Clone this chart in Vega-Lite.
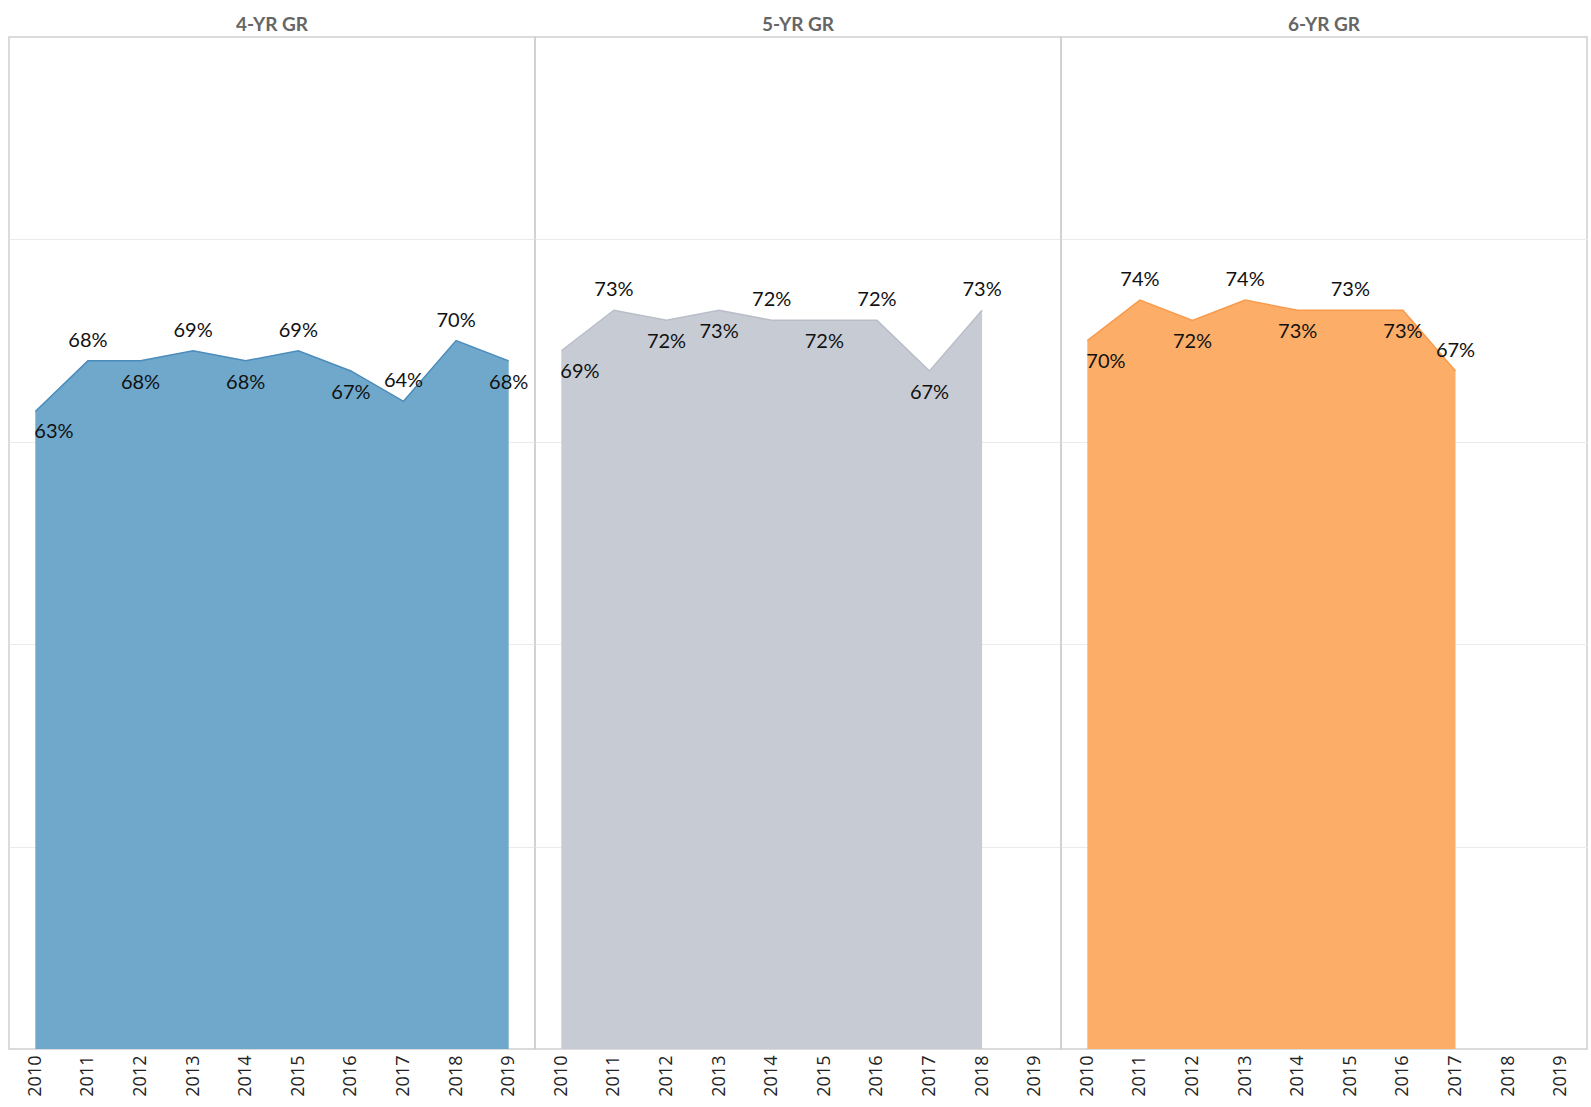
{
  "$schema": "https://vega.github.io/schema/vega-lite/v6.json",
  "background": "white",
  "padding": {"left": 8, "top": 16, "right": 5, "bottom": 0},
  "bounds": "flush",
  "data": {
    "values": [
      {"series": "4-YR GR", "year": "2010", "rate": 0.63},
      {"series": "4-YR GR", "year": "2011", "rate": 0.68},
      {"series": "4-YR GR", "year": "2012", "rate": 0.68},
      {"series": "4-YR GR", "year": "2013", "rate": 0.69},
      {"series": "4-YR GR", "year": "2014", "rate": 0.68},
      {"series": "4-YR GR", "year": "2015", "rate": 0.69},
      {"series": "4-YR GR", "year": "2016", "rate": 0.67},
      {"series": "4-YR GR", "year": "2017", "rate": 0.64},
      {"series": "4-YR GR", "year": "2018", "rate": 0.70},
      {"series": "4-YR GR", "year": "2019", "rate": 0.68},
      {"series": "5-YR GR", "year": "2010", "rate": 0.69},
      {"series": "5-YR GR", "year": "2011", "rate": 0.73},
      {"series": "5-YR GR", "year": "2012", "rate": 0.72},
      {"series": "5-YR GR", "year": "2013", "rate": 0.73},
      {"series": "5-YR GR", "year": "2014", "rate": 0.72},
      {"series": "5-YR GR", "year": "2015", "rate": 0.72},
      {"series": "5-YR GR", "year": "2016", "rate": 0.72},
      {"series": "5-YR GR", "year": "2017", "rate": 0.67},
      {"series": "5-YR GR", "year": "2018", "rate": 0.73},
      {"series": "6-YR GR", "year": "2010", "rate": 0.70},
      {"series": "6-YR GR", "year": "2011", "rate": 0.74},
      {"series": "6-YR GR", "year": "2012", "rate": 0.72},
      {"series": "6-YR GR", "year": "2013", "rate": 0.74},
      {"series": "6-YR GR", "year": "2014", "rate": 0.73},
      {"series": "6-YR GR", "year": "2015", "rate": 0.73},
      {"series": "6-YR GR", "year": "2016", "rate": 0.73},
      {"series": "6-YR GR", "year": "2017", "rate": 0.67}
    ]
  },
  "facet": {
    "column": {
      "field": "series",
      "type": "nominal",
      "title": null,
      "sort": ["4-YR GR", "5-YR GR", "6-YR GR"],
      "header": {
        "labelFont": "Lato",
        "labelFontSize": 19,
        "labelFontWeight": "bold",
        "labelColor": "#666666",
        "labelPadding": 2
      }
    }
  },
  "spacing": 0,
  "spec": {
    "width": 526,
    "height": 1012,
    "encoding": {
      "x": {
        "field": "year",
        "type": "ordinal",
        "scale": {"type": "point", "padding": 0.5},
        "axis": {
          "title": null,
          "labelAngle": -90,
          "labelFont": "Open Sans",
          "labelFontSize": 18,
          "labelColor": "#222222",
          "labelPadding": 6,
          "ticks": false,
          "domain": false,
          "grid": false
        }
      },
      "y": {
        "field": "rate",
        "type": "quantitative",
        "scale": {"domain": [0, 1], "nice": false},
        "axis": {
          "title": null,
          "labels": false,
          "ticks": false,
          "domain": false,
          "grid": true,
          "gridColor": "#ebebeb",
          "minExtent": 0,
          "maxExtent": 0,
          "values": [0.2, 0.4, 0.6, 0.8]
        }
      }
    },
    "layer": [
      {
        "mark": {"type": "area", "opacity": 1},
        "encoding": {
          "fill": {
            "field": "series",
            "type": "nominal",
            "scale": {"domain": ["4-YR GR", "5-YR GR", "6-YR GR"], "range": ["#6fa8cb", "#c7ccd4", "#fcae68"]},
            "legend": null
          }
        }
      },
      {
        "mark": {"type": "line", "strokeWidth": 1.5},
        "encoding": {
          "stroke": {
            "field": "series",
            "type": "nominal",
            "scale": {"domain": ["4-YR GR", "5-YR GR", "6-YR GR"], "range": ["#4a8cbc", "#b8bdc7", "#f99a4c"]},
            "legend": null
          }
        }
      },
      {
        "transform": [
          {"filter": "(datum.series == '4-YR GR' && indexof(['2011','2013','2015','2017','2018'], datum.year) >= 0) || (datum.series == '5-YR GR' && indexof(['2011','2014','2016','2018'], datum.year) >= 0) || (datum.series == '6-YR GR' && indexof(['2011','2013','2015','2017'], datum.year) >= 0)"}
        ],
        "mark": {"type": "text", "dy": -20, "font": "Lato", "fontSize": 20, "color": "#111111", "baseline": "middle"},
        "encoding": {"text": {"field": "rate", "type": "quantitative", "format": ".0%"}}
      },
      {
        "transform": [
          {"filter": "datum.year != '2010' && !((datum.series == '4-YR GR' && indexof(['2011','2013','2015','2017','2018'], datum.year) >= 0) || (datum.series == '5-YR GR' && indexof(['2011','2014','2016','2018'], datum.year) >= 0) || (datum.series == '6-YR GR' && indexof(['2011','2013','2015','2017'], datum.year) >= 0))"}
        ],
        "mark": {"type": "text", "dy": 22, "font": "Lato", "fontSize": 20, "color": "#111111", "baseline": "middle"},
        "encoding": {"text": {"field": "rate", "type": "quantitative", "format": ".0%"}}
      },
      {
        "transform": [{"filter": "datum.year == '2010'"}],
        "mark": {"type": "text", "dy": 21, "dx": -1, "align": "left", "font": "Lato", "fontSize": 20, "color": "#111111", "baseline": "middle"},
        "encoding": {"text": {"field": "rate", "type": "quantitative", "format": ".0%"}}
      }
    ]
  },
  "config": {
    "view": {"stroke": "#d0d0d0", "strokeWidth": 1.5}
  }
}
